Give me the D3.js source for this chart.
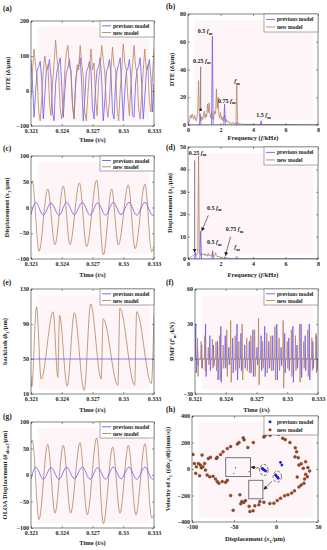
<!DOCTYPE html>
<html>
<head>
<meta charset="utf-8">
<script src="https://cdn.jsdelivr.net/npm/d3@7"></script>
<style>
body { margin: 0; background: #fff; }
svg text { font-family: "Liberation Serif", "Times New Roman", serif; font-weight: bold; fill: #222; }
</style>
</head>
<body>
<svg id="fig" width="327" height="550"></svg>
<script>
const BLUE = "#6b5cf2";
const BROWN = "#b8835e";

// ---- (a) DTE time series, uniform samples from 0.321 to 0.333 s
const dteBlue = [90, 20, -75, 0, 60, 70, 85, 30, -80, -10, 60, 65, 90, 40, -60, -85, 20, 60, 75, 95, 10, -75, 0, 55, 65, 90, 50, -40, -80, 30, 60, 70, 95, 20, -85, -20, 55, 65, 85, 60, -50, -80, 10, 60, 70, 95, 30, -85, -30, 55, 65, 90, 50, -60, -80, 20, 60, 75, 95, 10, -85, 0, 55, 65, 90, 40, -70, -75, 20, 60, 70, 95, 20, -80, -20, 55, 65, 90, 40, -60, 20];
const dteBrown = [-20, 60, 120, 70, 40, -60, -85, -20, 60, 100, 60, 75, -30, -70, 20, 80, 145, 90, 50, -50, -80, -40, 60, 110, 130, 70, 60, -40, -75, 10, 75, 60, 130, 80, 40, -60, -85, -10, 55, 120, 60, 80, -20, -70, 30, 70, 130, 90, 50, -40, -75, -30, 60, 125, 70, 65, -50, -85, 0, 60, 135, 80, 60, -20, -70, 20, 70, 130, 70, 50, -50, -80, -10, 60, 120, 60, 75, -30, -60, 40, 120];

// ---- (b) DTE spectrum
const specBlueF = [0, 0.7, 0.75, 0.8, 1.45, 1.5, 1.55, 2.2, 2.25, 2.3, 2.95, 3.0, 3.05, 4.45, 4.5, 4.55, 8];
const specBlueV = [0, 0, 8, 0, 0, 64, 0, 0, 15, 0, 0, 2, 0, 0, 3, 0, 0];
// brown sampled every 0.05 kHz from 0 to 3.5, then a sparse tail
const specBrownV = [0, 1, 4, 7, 5, 8, 6, 4, 7, 5, 3, 6, 9, 32, 8, 5, 3, 6, 4, 7, 10, 5, 8, 6, 15, 9, 16, 8, 5, 9, 6, 4, 7, 10, 8, 26, 12, 20, 7, 5, 9, 4, 6, 3, 5, 7, 3, 4, 2, 3, 2, 1, 2, 1, 1, 2, 1, 1, 1, 2, 29, 2, 1, 1, 1, 0.5, 1, 0.5, 0.5, 0.5, 0.5];
const specBrownTailF = [4.45, 4.5, 4.55, 6, 8];
const specBrownTailV = [0.3, 1.5, 0.3, 0.3, 0];

// ---- (c) displacement x1, extrema
const dispBrownT = [0.321, 0.32113, 0.32178, 0.32263, 0.32334, 0.32415, 0.3248, 0.32572, 0.32643, 0.32741, 0.32806, 0.32887, 0.32952, 0.3305, 0.33115, 0.33212, 0.33277, 0.333];
const dispBrownV = [45, 52, -85, 36, -72, 42, -72, 48, -76, 53, -92, 36, -73, 44, -80, 45, -86, -75];
const dispBlueT = [0.321, 0.32146, 0.3222, 0.32295, 0.32373, 0.32448, 0.32523, 0.32601, 0.32676, 0.3275, 0.32828, 0.32903, 0.32978, 0.33056, 0.33131, 0.33212, 0.33287, 0.333];
const dispBlueV = [-14, 10, -15, 9, -15, 10, -14, 10, -15, 9, -15, 10, -14, 10, -15, 10, -15, -14];

// ---- (d) displacement spectrum
const dspecBlueF = [0, 0.4, 0.45, 0.5, 0.73, 0.78, 0.83, 1.47, 1.52, 1.57, 2.23, 2.28, 2.33, 2.95, 3.0, 3.05, 8];
const dspecBlueV = [0, 0, 3, 0, 0, 12.5, 0, 0, 3.7, 0, 0, 1, 0, 0, 0.5, 0, 0];
const dspecBrownV = [0, 0.3, 0.5, 0.8, 1, 1.2, 1.5, 1.8, 2, 2.5, 1.5, 2, 3, 46, 3, 2, 1.5, 2.5, 1.8, 2.2, 1.6, 2.4, 1.5, 2, 1.2, 2.6, 1.4, 1.8, 1.2, 1.6, 2.5, 1.2, 1, 1.5, 2.8, 1.4, 1, 1.3, 0.8, 1, 0.8, 0.7, 0.9, 0.6, 0.5, 0.7, 0.5, 0.4, 0.5, 0.3, 0.4, 0.3, 0.3, 0.2, 0.3, 0.2, 0.2, 0.2, 0.3, 0.5, 1.2, 0.3, 0.2, 0.1, 0.1];

// ---- (e) backlash b1
const blBlueT = [0.321, 0.333];
const blBlueV = [50, 50];
const blBrownT = [0.321, 0.32107, 0.32154, 0.32199, 0.32316, 0.32362, 0.32378, 0.32453, 0.32523, 0.32619, 0.32682, 0.32785, 0.32804, 0.32948, 0.32967, 0.33111, 0.33131, 0.33274, 0.333];
const blBrownV = [30, 18, 110, 27, 104, 29, 100, 19, 103, 14, 113, 27, 96, 20, 108, 20, 104, 22, 100];

// ---- (f) DMF spikes: time, peak, dip
const dmfBlueT = [0.32107, 0.32125, 0.32165, 0.32203, 0.32245, 0.3228, 0.3232, 0.32352, 0.32395, 0.3243, 0.32468, 0.3251, 0.32548, 0.32585, 0.3263, 0.32665, 0.32705, 0.32745, 0.3278, 0.3282, 0.32858, 0.32898, 0.3294, 0.32975, 0.33015, 0.33055, 0.33095, 0.33135, 0.33175, 0.33215, 0.3325, 0.33285];
const dmfBluePeak = [30, 8, 12, 30, 20, 12, 15, 28, 20, 10, 18, 30, 22, 12, 15, 25, 10, 20, 28, 15, 20, 30, 10, 22, 18, 28, 12, 30, 20, 30, 15, 20];
const dmfBlueDip = [-12, -5, -8, -15, -10, -6, -18, -20, -8, -5, -12, -18, -10, -8, -12, -15, -5, -10, -15, -8, -10, -18, -6, -12, -10, -20, -8, -16, -10, -18, -8, -10];
const dmfBrownT = [0.32125, 0.3216, 0.32195, 0.3223, 0.3227, 0.32305, 0.3234, 0.32375, 0.3241, 0.32448, 0.32492, 0.32528, 0.3256, 0.32605, 0.32645, 0.32682, 0.3272, 0.3276, 0.328, 0.3284, 0.3288, 0.3292, 0.3296, 0.33, 0.3304, 0.3308, 0.3312, 0.3316, 0.332, 0.3324, 0.3328];
const dmfBrownPeak = [18, 15, 20, 10, 17, 15, 20, 12, 25, 33, 20, 15, 30, 18, 20, 25, 35, 15, 22, 20, 28, 18, 33, 15, 25, 20, 30, 15, 25, 18, 22];
const dmfBrownDip = [-15, -8, -10, -5, -8, -10, -18, -8, -15, -20, -10, -8, -18, -10, -12, -15, -22, -8, -12, -10, -18, -10, -25, -8, -15, -10, -20, -8, -15, -10, -12];

// ---- (g) OLOA displacement, extrema
const oloaBrownT = [0.321, 0.32113, 0.32178, 0.32263, 0.32334, 0.32415, 0.32487, 0.32578, 0.32649, 0.32741, 0.32806, 0.32897, 0.32968, 0.3305, 0.33124, 0.33212, 0.33277, 0.333];
const oloaBrownV = [60, 66, -84, 58, -72, 56, -72, 61, -75, 70, -92, 53, -72, 56, -75, 59, -81, -75];
const oloaBlueT = [0.321, 0.32146, 0.3222, 0.32295, 0.32373, 0.32448, 0.32523, 0.32601, 0.32676, 0.3275, 0.32828, 0.32903, 0.32978, 0.33056, 0.33131, 0.33212, 0.33287, 0.333];
const oloaBlueV = [-8, 15, -8, 14, -8, 15, -7, 15, -8, 14, -8, 15, -7, 15, -8, 15, -8, -6];

// ---- (h) phase portrait
const phBrownX = [-98.8, -97.2, -94.8, -95.6, -92.4, -90, -89, -87, -84, -91, -82, -79, -75, -72, -70, -68, -64, -60, -58, -85, -88, -80.5, -78, -71, -70, -66, -63, -58, -54, -46, -44, -39, -38, -33.5, -27, -14.5, -13, -7, 3, 8, 11, 16.6, 23, 24.5, 22.6, 26.5, 27.3, 32.5, 35.3, 37.3, 34, 33.3, 30, 27.3, 22, 18.6, 14.2, 10.2, 5.4, 1.5, -2.5, -7.3, -14.4, -19.2, -20.4, -25.2, -27.2, -31, -32, -36.3, -38.3, -40.7, -42, -43, -51, -54, 30, 35.3, 38, 40, 25.3];
const phBrownY = [110, 42, 17, -32, 42, 30, 10, 17, -8, -50, -45, -58, -55, -75, -95, -108, -95, -100, -85, 42, 105, 80, 88, 80, 88, 110, 130, 155, 170, 188, 200, 235, 220, 162, 200, 242, 252, 255, 262, 232, 222, 200, 160, 130, 92, 85, 30, 5, -40, -58, -75, -108, -120, -135, -165, -182, -195, -202, -220, -238, -258, -260, -250, -245, -270, -278, -315, -320, -282, -238, -252, -245, -262, -195, -312, -200, 40, 55, 12, -15, -60];
const phBlueX = [-16.4, -14.8, -13.6, -12.4, -15.6, -0.5, 0.3, 1.9, 2.7, 5.4, 7];
const phBlueY = [5, -5, -10, -15, 0, -45, -52, -62, -70, 50, 30];
const phInsetX = [-48.3, -50.3, -32];
const phInsetY = [10, -32, -20];

const svg = d3.select("#fig");
const defs = svg.append("defs");
defs.append("marker").attr("id", "arr")
  .attr("viewBox", "0 0 10 10").attr("refX", 9).attr("refY", 5)
  .attr("markerWidth", 4).attr("markerHeight", 4)
  .attr("markerUnits", "userSpaceOnUse").attr("orient", "auto")
  .append("path").attr("d", "M0,0L10,5L0,10z").attr("fill", "#222");

// text made of pieces: [string, flags] where "i" = italic, "s" = subscript, "u" = back up
function rich(sel, parts) {
  parts.forEach(([s, f]) => {
    const t = sel.append("tspan").text(s);
    if (f && f.includes("i")) t.attr("font-style", "italic");
    if (f && f.includes("s")) t.attr("dy", 1.6).attr("font-size", "0.72em");
    if (f && f.includes("u")) t.attr("dy", -1.6);
  });
  return sel;
}

function panel(c) {
  const x = d3.scaleLinear().domain(c.xd).range([c.l, c.r]);
  const y = d3.scaleLinear().domain(c.yd).range([c.b, c.t]);
  const g = svg.append("g");

  g.append("rect")
    .attr("x", c.l + 7).attr("y", c.t + 6)
    .attr("width", c.r - c.l - 12).attr("height", c.b - c.t - 11)
    .attr("fill", "#fef5f8");

  defs.append("clipPath").attr("id", "clip-" + c.key)
    .append("rect").attr("x", c.l).attr("y", c.t)
    .attr("width", c.r - c.l).attr("height", c.b - c.t);
  const plot = g.append("g").attr("clip-path", `url(#clip-${c.key})`);

  const fmt = c.xf || (d => String(d));
  const style = (a) => {
    a.select(".domain").remove();
    a.selectAll("line").attr("stroke", "#333").attr("stroke-width", 0.5);
    a.selectAll("text").attr("font-size", 6).attr("fill", "#222");
  };
  g.append("g").attr("transform", `translate(0,${c.b})`)
    .call(d3.axisBottom(x).tickValues(c.xt).tickFormat(fmt).tickSizeInner(-2).tickSizeOuter(0).tickPadding(3))
    .call(style);
  g.append("g").attr("transform", `translate(0,${c.t})`)
    .call(d3.axisTop(x).tickValues(c.xt).tickFormat("").tickSizeInner(-2).tickSizeOuter(0))
    .call(style);
  g.append("g").attr("transform", `translate(${c.l},0)`)
    .call(d3.axisLeft(y).tickValues(c.yt).tickSizeInner(-2).tickSizeOuter(0).tickPadding(2))
    .call(style)
    .call(a => a.selectAll("text").attr("dy", "0.25em"));
  g.append("g").attr("transform", `translate(${c.r},0)`)
    .call(d3.axisRight(y).tickValues(c.yt).tickFormat("").tickSizeInner(-2).tickSizeOuter(0))
    .call(style);

  g.append("rect").attr("x", c.l).attr("y", c.t)
    .attr("width", c.r - c.l).attr("height", c.b - c.t)
    .attr("fill", "none").attr("stroke", "#333").attr("stroke-width", 0.6);

  rich(g.append("text").attr("x", (c.l + c.r) / 2).attr("y", c.b + c.xty)
    .attr("text-anchor", "middle").attr("font-size", 6.5), c.xlab);
  rich(g.append("text")
    .attr("transform", `translate(${c.ytx},${(c.t + c.b) / 2}) rotate(-90)`)
    .attr("text-anchor", "middle").attr("font-size", 6.5), c.ylab);
  g.append("text").attr("x", c.lx).attr("y", c.ly).attr("font-size", 7.5)
    .attr("font-weight", "normal").text(c.tag);

  return { g, plot, x, y, c };
}

function legend(p, h, dots) {
  const { c } = p;
  const w = 54, x0 = c.r - w, y0 = c.t;
  const lg = p.g.append("g");
  lg.append("rect").attr("x", x0).attr("y", y0).attr("width", w).attr("height", h)
    .attr("fill", "#fff").attr("stroke", "#555").attr("stroke-width", 0.5);
  [["previous model", BLUE, "#1f1fe0"], ["new model", BROWN, "#8a3a1c"]].forEach(([lab, col, dcol], i) => {
    const yy = y0 + h * (i === 0 ? 0.3 : 0.72);
    if (dots) {
      lg.append("circle").attr("cx", x0 + 6).attr("cy", yy).attr("r", 1.5).attr("fill", dcol);
    } else {
      lg.append("line").attr("x1", x0 + 2).attr("x2", x0 + 11).attr("y1", yy).attr("y2", yy)
        .attr("stroke", col).attr("stroke-width", 0.9);
    }
    lg.append("text").attr("x", x0 + 13).attr("y", yy + 2).attr("font-size", 5.6).text(lab);
  });
}

function drawLine(p, xs, ys, color, curve) {
  const pts = xs.map((d, i) => [d, ys[i]]);
  p.plot.append("path").datum(pts)
    .attr("fill", "none").attr("stroke", color).attr("stroke-width", 0.8)
    .attr("stroke-linejoin", "round")
    .attr("d", d3.line().x(d => p.x(d[0])).y(d => p.y(d[1])).curve(curve || d3.curveLinear));
}

const timeTicks = [0.321, 0.324, 0.327, 0.33, 0.333];
const timeFmt = d => String(+d.toFixed(3));
const timeLab = [["Time ("], ["t", "i"], ["/s)"]];
const freqLab = [["Frequency ("], ["f", "i"], ["/kHz)"]];
const x1Lab = [["Displacement ("], ["x", "i"], ["1", "s"], ["/μm)", "u"]];
const uniform = (n, a, b) => d3.range(n).map(i => a + (b - a) * i / (n - 1));

// ---------- (a)
const pa = panel({ key: "a", l: 31, r: 154, t: 21, b: 126, xd: [0.321, 0.333], yd: [-100, 200],
  xt: timeTicks, xf: timeFmt, yt: [-100, 0, 100, 200], xlab: timeLab, xty: 16,
  ylab: [["DTE ("], ["δ", "i"], ["/μm)"]], ytx: 10, tag: "(a)", lx: 3, ly: 11 });
drawLine(pa, uniform(dteBlue.length, 0.321, 0.333), dteBlue, BLUE);
drawLine(pa, uniform(dteBrown.length, 0.321, 0.333), dteBrown, BROWN);
legend(pa, 16);

// ---------- (b)
const pb = panel({ key: "b", l: 188, r: 318, t: 14, b: 125, xd: [0, 8], yd: [0, 80],
  xt: [0, 2, 4, 6, 8], yt: [0, 20, 40, 60, 80], xlab: freqLab, xty: 15,
  ylab: [["DTE ("], ["δ", "i"], ["/μm)"]], ytx: 174, tag: "(b)", lx: 166, ly: 9 });
drawLine(pb, uniform(specBrownV.length, 0, 3.5).concat(specBrownTailF), specBrownV.concat(specBrownTailV), BROWN);
drawLine(pb, specBlueF, specBlueV, BLUE);
legend(pb, 18);

function note(p, f, v, parts, anchor) {
  rich(p.g.append("text").attr("x", p.x(f)).attr("y", p.y(v))
    .attr("text-anchor", anchor || "start").attr("font-size", 6), parts);
}
function arrow(p, f1, v1, f2, v2, dot) {
  p.g.append("line").attr("x1", p.x(f1)).attr("y1", p.y(v1)).attr("x2", p.x(f2)).attr("y2", p.y(v2))
    .attr("stroke", "#222").attr("stroke-width", 0.6).attr("marker-end", dot ? null : "url(#arr)");
  if (dot) p.g.append("circle").attr("cx", p.x(f2)).attr("cy", p.y(v2)).attr("r", 1.3).attr("fill", "#111");
}
const fm = (k) => [[k ? k + " " : ""], ["f", "i"], ["m", "s"]];
note(pb, 1.5, 66, fm("0.5"), "end");
note(pb, 0.3, 45, fm("0.25"));
arrow(pb, 0.78, 42, 0.78, 11, true);
note(pb, 1.85, 16, fm("0.75"));
note(pb, 2.85, 30, fm(""));
note(pb, 4.2, 5.5, fm("1.5"));

// ---------- (c)
const pc = panel({ key: "c", l: 31, r: 154, t: 156, b: 259, xd: [0.321, 0.333], yd: [-100, 100],
  xt: timeTicks, xf: timeFmt, yt: [-100, -50, 0, 50, 100], xlab: timeLab, xty: 18,
  ylab: x1Lab, ytx: 9, tag: "(c)", lx: 3, ly: 151 });
drawLine(pc, dispBrownT, dispBrownV, BROWN, d3.curveMonotoneX);
drawLine(pc, dispBlueT, dispBlueV, BLUE, d3.curveMonotoneX);
legend(pc, 15);

// ---------- (d)
const pd = panel({ key: "d", l: 188, r: 318, t: 147, b: 259, xd: [0, 8], yd: [0, 50],
  xt: [0, 2, 4, 6, 8], yt: [0, 10, 20, 30, 40, 50], xlab: freqLab, xty: 18,
  ylab: x1Lab, ytx: 172, tag: "(d)", lx: 166, ly: 150 });
drawLine(pd, uniform(dspecBrownV.length, 0, 3.2).concat([4, 8]), dspecBrownV.concat([0.1, 0]), BROWN);
drawLine(pd, dspecBlueF, dspecBlueV, BLUE);
legend(pd, 18);
note(pd, 0.05, 46.5, fm("0.25"));
arrow(pd, 0.41, 44, 0.41, 3);
note(pd, 1.17, 22, fm("0.5"));
arrow(pd, 1.25, 19.5, 0.85, 12.5);
note(pd, 1.17, 6.5, fm("0.5"));
note(pd, 2.33, 12.5, fm("0.75"));
arrow(pd, 2.62, 10, 2.3, 1.5);
note(pd, 2.85, 4.5, fm(""));

// ---------- (e)
const pe = panel({ key: "e", l: 31, r: 154, t: 289, b: 394, xd: [0.321, 0.333], yd: [10, 130],
  xt: timeTicks, xf: timeFmt, yt: [10, 50, 90, 130], xlab: timeLab, xty: 18,
  ylab: [["backlash ("], ["b", "i"], ["1", "s"], ["/μm)", "u"]], ytx: 7, tag: "(e)", lx: 3, ly: 285 });
drawLine(pe, blBrownT, blBrownV, BROWN, d3.curveMonotoneX);
drawLine(pe, blBlueT, blBlueV, BLUE);
legend(pe, 16);

// ---------- (f)
function spikes(ts, peaks, dips) {
  const xs = [0.321], ys = [0];
  ts.forEach((t, i) => {
    xs.push(t - 0.00004, t, t + 0.00005, t + 0.0001);
    ys.push(0, peaks[i], dips[i], 0);
  });
  xs.push(0.333); ys.push(0);
  return [xs, ys];
}
const pf = panel({ key: "f", l: 195, r: 318, t: 289, b: 394, xd: [0.321, 0.333], yd: [-30, 60],
  xt: timeTicks, xf: timeFmt, yt: [-30, 0, 30, 60], xlab: timeLab, xty: 18,
  ylab: [["DMF ("], ["F", "i"], ["m", "s"], ["/kN)", "u"]], ytx: 174, tag: "(f)", lx: 166, ly: 285 });
drawLine(pf, ...spikes(dmfBlueT, dmfBluePeak, dmfBlueDip), BLUE);
drawLine(pf, ...spikes(dmfBrownT, dmfBrownPeak, dmfBrownDip), BROWN);
legend(pf, 16);

// ---------- (g)
const pg = panel({ key: "g", l: 31, r: 154, t: 422, b: 528, xd: [0.321, 0.333], yd: [-100, 100],
  xt: timeTicks, xf: timeFmt, yt: [-100, -50, 0, 50, 100], xlab: timeLab, xty: 17,
  ylab: [["OLOA Displacement ("], ["δ", "i"], ["oloa1", "s"], ["/μm)", "u"]], ytx: 7, tag: "(g)", lx: 3, ly: 419 });
drawLine(pg, oloaBrownT, oloaBrownV, BROWN, d3.curveMonotoneX);
drawLine(pg, oloaBlueT, oloaBlueV, BLUE, d3.curveMonotoneX);
legend(pg, 16);

// ---------- (h)
const ph = panel({ key: "h", l: 192, r: 318, t: 416, b: 522, xd: [-100, 50], yd: [-400, 400],
  xt: [-100, -50, 0, 50], yt: [-400, -200, 0, 200, 400], xlab: x1Lab, xty: 19,
  ylab: [["Velocity of "], ["x", "i"], ["1", "s"], [" ((d", "u"], ["x", "i"], ["1", "s"], ["/d", "u"], ["t", "i"], [")/(mm/s))"]],
  ytx: 170, tag: "(h)", lx: 166, ly: 412 });
ph.plot.selectAll(".br").data(phBrownX).join("circle")
  .attr("cx", d => ph.x(d)).attr("cy", (d, i) => ph.y(phBrownY[i])).attr("r", 1.5)
  .attr("fill", "#a0461f").attr("stroke", "#4a2410").attr("stroke-width", 0.3);
ph.plot.selectAll(".bl").data(phBlueX).join("circle")
  .attr("cx", d => ph.x(d)).attr("cy", (d, i) => ph.y(phBlueY[i])).attr("r", 1.4)
  .attr("fill", "#1f1fe0");
ph.plot.selectAll(".in").data(phInsetX).join("circle")
  .attr("cx", d => ph.x(d)).attr("cy", (d, i) => ph.y(phInsetY[i])).attr("r", 0.6)
  .attr("fill", "#1f1fe0");
// insets and callouts
[[-59.8, 85, -30.4, -57.5], [-32.4, -85, -15.6, -225]].forEach(([x1, y1, x2, y2]) => {
  ph.g.append("rect").attr("x", ph.x(x1)).attr("y", ph.y(y1))
    .attr("width", ph.x(x2) - ph.x(x1)).attr("height", ph.y(y2) - ph.y(y1))
    .attr("fill", "none").attr("stroke", "#555").attr("stroke-width", 0.8);
});
[[-14.4, -7.5], [1.5, -57.5]].forEach(([cx, cy]) => {
  ph.g.append("ellipse").attr("cx", ph.x(cx)).attr("cy", ph.y(cy))
    .attr("rx", ph.x(cx + 5) - ph.x(cx)).attr("ry", ph.y(cy - 42) - ph.y(cy))
    .attr("fill", "none").attr("stroke", "#222").attr("stroke-width", 0.6).attr("stroke-dasharray", "3,1.5");
});
arrow(ph, -19.6, 5, -29.6, 15);
arrow(ph, -4.5, -90, -14.4, -155);
legend(ph, 19, true);
</script>
</body>
</html>
